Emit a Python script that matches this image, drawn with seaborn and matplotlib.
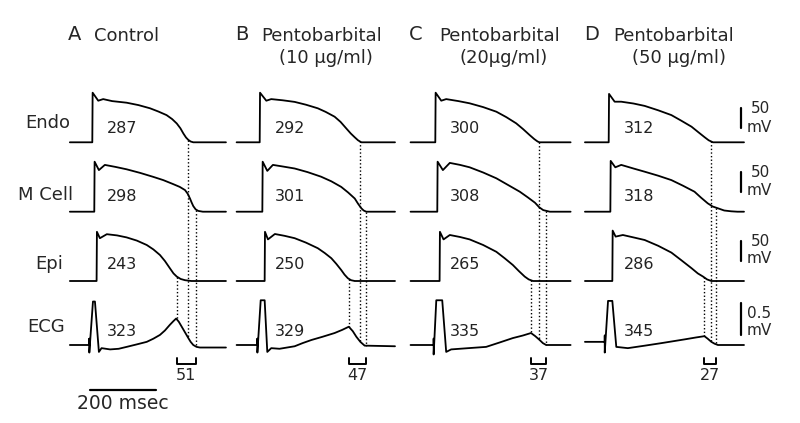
import numpy as np
import pandas as pd
import matplotlib
matplotlib.use("Agg")
import matplotlib.pyplot as plt
import seaborn as sns

# --- labels -------------------------------------------------------------
panels = ["A", "B", "C", "D"]
conditions = ["Control", "Pentobarbital", "Pentobarbital", "Pentobarbital"]
doses = ["", "(10 µg/ml)", "(20µg/ml)", "(50 µg/ml)"]
cells = ["Endo", "M Cell", "Epi", "ECG"]

# --- numbers printed on the traces (ms) ---------------------------------
apd_endo = [287, 292, 300, 312]
apd_m = [298, 301, 308, 318]
apd_epi = [243, 250, 265, 286]
qt = [323, 329, 335, 345]
tpe = [51, 47, 37, 27]

# end of repolarisation marks (ms after the Endo upstroke)
end_epi = [256, 270, 291, 289]
end_endo = [291, 303, 314, 310]
end_m = [314, 323, 334, 325]

# --- traces: time (ms), AP in mV above rest, ECG in mV -------------------
# Control
t_endo_a = [-68, 0, 1, 18, 33, 60, 104, 140, 175, 200, 225, 242, 256, 267, 276, 284, 291, 298, 306, 405]
v_endo_a = [0, 0, 124, 104, 108, 103, 99, 93, 85, 77, 68, 58, 47, 35, 22, 12, 6, 2, 0, 0]
t_m_a = [-68, 6, 7, 20, 38, 70, 104, 145, 185, 215, 245, 265, 281, 289, 296, 301, 306, 313, 321, 335, 405]
v_m_a = [0, 0, 125, 104, 117, 112, 106, 97, 87, 79, 69, 62, 54, 45, 33, 23, 14, 6, 2, 0, 0]
t_epi_a = [-68, 13, 14, 23, 44, 75, 104, 135, 165, 185, 205, 220, 235, 246, 256, 268, 281, 300, 405]
v_epi_a = [0, 0, 123, 107, 117, 114, 109, 101, 90, 79, 65, 50, 32, 19, 11, 5, 2, 0, 0]
t_ecg_a = [-68, -9, -9, -9, 2, 8, 20, 28, 54, 80, 104, 135, 165, 185, 205, 220, 235, 246, 254,
           262, 271, 281, 291, 298, 306, 316, 326, 405]
v_ecg_a = [0, 0, 0.1, -0.12, 0.69, 0.69, -0.11, -0.05, -0.07, -0.06, -0.03, 0.01, 0.05, 0.10, 0.16,
           0.23, 0.32, 0.38, 0.42, 0.37, 0.29, 0.20, 0.11, 0.05, 0, -0.03, -0.04, -0.04]

# Pentobarbital 10 ug/ml
t_endo_b = [-70, 0, 1, 20, 35, 70, 106, 140, 176, 200, 227, 245, 262, 276, 288, 298, 308, 410]
v_endo_b = [0, 0, 124, 104, 108, 105, 101, 94, 85, 76, 64, 51, 35, 22, 12.5, 5, 0, 0]
t_m_b = [-70, 8, 9, 23, 40, 70, 106, 145, 186, 217, 247, 268, 288, 298, 308, 315, 323, 410]
v_m_b = [0, 0, 125, 102, 117, 113, 108, 99, 87.5, 76, 62, 48, 33, 20, 8.5, 3, 0, 0]
t_epi_b = [-70, 15, 16, 25, 46, 75, 106, 140, 176, 197, 217, 232, 247, 257, 267, 277, 288, 410]
v_epi_b = [0, 0, 123, 104, 117.5, 113, 107, 96, 82, 70, 57, 43, 27.5, 16, 7, 2, 0, 0]
t_ecg_b = [-70, -7, -7, -7, 3, 15, 23, 35, 60, 106, 130, 157, 190, 227, 250, 270, 282, 293, 305, 318, 410]
v_ecg_b = [0, 0, 0.1, -0.12, 0.71, 0.71, -0.11, -0.05, -0.06, -0.02, 0.03, 0.08, 0.13, 0.19, 0.24,
           0.29, 0.22, 0.13, 0.05, -0.01, -0.02]

# Pentobarbital 20 ug/ml
t_endo_c = [-75, 0, 1, 18, 33, 70, 104, 145, 185, 215, 245, 266, 286, 300, 310, 316, 410]
v_endo_c = [0, 0, 124, 104, 108, 103, 97.5, 88, 76.5, 63, 47.5, 33, 18, 8, 2, 0, 0]
t_m_c = [-75, 6, 7, 23, 44, 75, 104, 145, 185, 220, 256, 280, 302, 315, 327, 347, 410]
v_m_c = [0, 0, 125, 104, 122, 117, 111, 98, 83.5, 67, 50, 36, 22.5, 11, 4, 0, 0]
t_epi_c = [-75, 13, 14, 25, 44, 75, 104, 145, 185, 210, 235, 253, 271, 283, 296, 410]
v_epi_c = [0, 0, 123, 104, 115, 110, 104, 90, 73, 57, 40, 25, 11, 4, 0, 0]
t_ecg_c = [-75, -5, -5, -5, 3, 21, 33, 48, 100, 154, 195, 235, 265, 290, 303, 316, 326, 336, 410]
v_ecg_c = [0, 0, 0.1, -0.15, 0.71, 0.71, -0.11, -0.07, -0.05, -0.03, 0.04, 0.11, 0.15, 0.19, 0.14,
           0.08, 0.03, 0, 0]

# Pentobarbital 50 ug/ml
t_endo_d = [-72, 0, 1, 18, 38, 75, 109, 150, 190, 220, 251, 272, 291, 303, 316, 410]
v_endo_d = [0, 0, 121, 101.5, 101.5, 97, 91, 80, 68, 54, 39, 25, 12.5, 5, 0, 0]
t_m_d = [-72, 5, 6, 20, 38, 75, 109, 150, 190, 225, 260, 280, 300, 315, 331, 350, 371, 390, 410]
v_m_d = [0, 0, 127, 111, 117, 108, 100, 90, 79, 65, 50, 35, 21, 13, 8.5, 3, 1, 0, 0]
t_epi_d = [-72, 11, 12, 21, 43, 75, 109, 150, 190, 220, 251, 270, 286, 298, 311, 410]
v_epi_d = [0, 0, 126, 111, 115, 109, 102.5, 88, 71, 52, 32, 19, 11, 4, 0, 0]
t_ecg_d = [-72, -12, -12, -12, -2, 11, 23, 58, 110, 160, 231, 265, 290, 300, 311, 321, 331, 410]
v_ecg_d = [0.05, 0.05, 0.15, -0.12, 0.70, 0.70, -0.03, -0.05, -0.01, 0.03, 0.09, 0.12, 0.14, 0.10,
           0.05, 0.02, 0.0, 0]

traces = [
    [(t_endo_a, v_endo_a), (t_endo_b, v_endo_b), (t_endo_c, v_endo_c), (t_endo_d, v_endo_d)],
    [(t_m_a, v_m_a), (t_m_b, v_m_b), (t_m_c, v_m_c), (t_m_d, v_m_d)],
    [(t_epi_a, v_epi_a), (t_epi_b, v_epi_b), (t_epi_c, v_epi_c), (t_epi_d, v_epi_d)],
    [(t_ecg_a, v_ecg_a), (t_ecg_b, v_ecg_b), (t_ecg_c, v_ecg_c), (t_ecg_d, v_ecg_d)],
]
row_numbers = [apd_endo, apd_m, apd_epi, qt]

# --- layout ---------------------------------------------------------------
PX_MS = 0.33          # pixels per ms
PX_MV = 0.40          # pixels per mV (AP rows)
ECG_GAIN = 157.5      # ECG mV drawn in AP-mV units
X0, Y0 = 92.3, 142.3


def xpx(px):
    return (px - X0) / PX_MS


def ypx(px):
    return (Y0 - px) / PX_MV


col_px = [92.3, 259.7, 435.3, 608.7]
row_px = [142.3, 211.7, 281.0, 345.0]
gains = [1, 1, 1, ECG_GAIN]
num_base_px = [9, 11, 12, 9]

sns.set_theme(style="white")
plt.rcParams["font.family"] = ["DejaVu Sans"]

fig = plt.figure(figsize=(8, 4.23), dpi=100)
ax = fig.add_axes([0, 0, 1, 1])

for r in range(4):
    for c in range(4):
        t, v = traces[r][c]
        df = pd.DataFrame({
            "time": xpx(col_px[c]) + np.array(t, dtype=float),
            "volt": ypx(row_px[r]) + np.array(v, dtype=float) * gains[r],
        })
        sns.lineplot(data=df, x="time", y="volt", color="black", linewidth=1.3,
                     sort=False, estimator=None, ax=ax)
        ax.text(xpx(col_px[c]) + 91, ypx(row_px[r] - num_base_px[r]), str(row_numbers[r][c]),
                ha="center", va="baseline", fontsize=11.5, color="#222222")

# dotted lines from end of repolarisation down to the ECG
dot = (0, (1.0, 1.6))
for c in range(4):
    ecg_t, ecg_v = traces[3][c]
    x0 = xpx(col_px[c])
    for r, tend in [(0, end_endo[c]), (1, end_m[c]), (2, end_epi[c])]:
        t, v = traces[r][c]
        y_top = ypx(row_px[r]) + np.interp(tend, t, v)
        y_bot = ypx(row_px[3]) + np.interp(tend, ecg_t, ecg_v) * ECG_GAIN
        ax.plot([x0 + tend, x0 + tend], [y_top, y_bot], color="black", lw=1.0, linestyle=dot)
    # Tp-e bracket
    x1, x2 = x0 + end_epi[c], x0 + end_m[c]
    yb, yt = ypx(364), ypx(357.5)
    ax.plot([x1, x1, x2, x2], [yt, yb, yb, yt], color="black", lw=1.4)
    ax.text((x1 + x2) / 2, ypx(380), str(tpe[c]), ha="center", va="baseline", fontsize=11.5)

# column headers
header_letter_px = [68, 235, 409, 584]
header_text_px = [94, 261, 439, 613]
dose_center_px = [0, 326, 504, 679]
for c in range(4):
    ax.text(xpx(header_letter_px[c]), ypx(40), panels[c], ha="left", va="baseline", fontsize=14)
    ax.text(xpx(header_text_px[c]), ypx(41), conditions[c], ha="left", va="baseline", fontsize=13)
    if doses[c]:
        ax.text(xpx(dose_center_px[c]), ypx(63.3), doses[c], ha="center", va="baseline", fontsize=13)

# row labels
row_label_x = [25, 18, 35, 27]
row_label_base = [128, 200, 269, 331.7]
for r in range(4):
    ax.text(xpx(row_label_x[r]), ypx(row_label_base[r]), cells[r], ha="left", va="baseline", fontsize=13)

# amplitude scale bars
bar_x = xpx(740.5)
bar_bottom = [128.3, 191.5, 260.8, 334.8]
bar_len = [50, 50, 50, 0.5 * ECG_GAIN]
top_text = ["50", "50", "50", "0.5"]
top_base = [113.3, 176.7, 245.7, 318.3]
top_left = [750.7, 750.7, 750.7, 747]
mv_base = [131.7, 195, 263.3, 335]
for r in range(4):
    yb = ypx(bar_bottom[r])
    ax.plot([bar_x, bar_x], [yb, yb + bar_len[r]], color="black", lw=1.6)
    ax.text(xpx(top_left[r]), ypx(top_base[r]), top_text[r], ha="left", va="baseline", fontsize=11)
    ax.text(xpx(747), ypx(mv_base[r]), "mV", ha="left", va="baseline", fontsize=11)

# time scale bar
tb = xpx(89.5)
ax.plot([tb, tb + 200], [ypx(390), ypx(390)], color="black", lw=1.6)
ax.text(tb + 100, ypx(409), "200 msec", ha="center", va="baseline", fontsize=13.5)

ax.set_xlim(xpx(0), xpx(800))
ax.set_ylim(ypx(423), ypx(0))
ax.set_axis_off()

fig.savefig("out.png", dpi=100, facecolor="white")
